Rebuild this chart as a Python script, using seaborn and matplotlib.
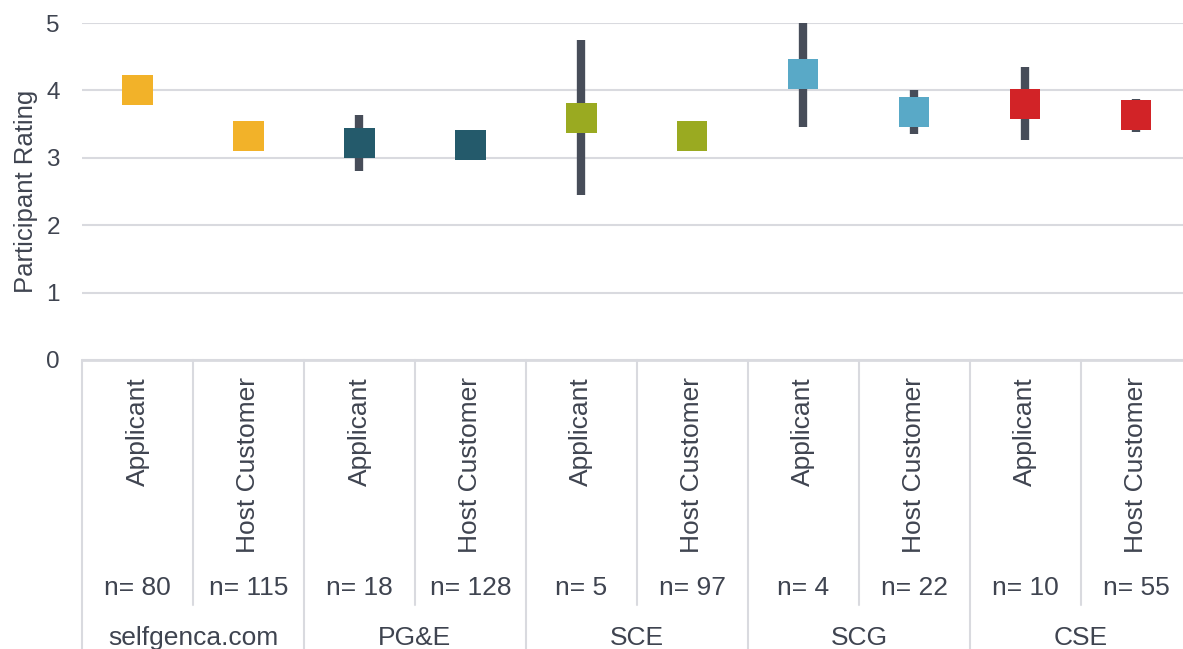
import pandas as pd
import numpy as np
import matplotlib.pyplot as plt
import seaborn as sns

# Datos
companies = ['selfgenca.com', 'PG&E', 'SCE', 'SCG', 'CSE']
roles = ['Applicant', 'Host Customer']
ratings = [4.00, 3.32, 3.22, 3.19, 3.59, 3.32, 4.24, 3.68, 3.80, 3.64]
err_low = [np.nan, np.nan, 2.80, np.nan, 2.45, np.nan, 3.46, 3.35, 3.26, 3.39]
err_high = [np.nan, np.nan, 3.63, np.nan, 4.75, np.nan, 5.00, 4.00, 4.34, 3.87]
n_counts = [80, 115, 18, 128, 5, 97, 4, 22, 10, 55]

palette = {'selfgenca.com': '#F2B229', 'PG&E': '#245A6B', 'SCE': '#9AAA21',
           'SCG': '#59A9C7', 'CSE': '#D22327'}
text_color = '#3F4450'
grid_color = '#D9DADF'

df = pd.DataFrame({
    'pos': np.arange(len(ratings)),
    'company': np.repeat(companies, 2),
    'role': roles * len(companies),
    'rating': ratings,
    'lo': err_low,
    'hi': err_high,
    'n': n_counts,
})

sns.set_theme(style='white')
plt.rcParams['font.family'] = ['Liberation Sans', 'DejaVu Sans']

fig = plt.figure(figsize=(11.83, 6.49), dpi=100)
ax = fig.add_axes([82 / 1183, 1 - 360 / 649, 1 - 82 / 1183, 337 / 649])

# barras de error detras de los cuadrados
ax.vlines(df['pos'], df['lo'], df['hi'], color='#474D59', linewidth=6, zorder=2)

sns.scatterplot(data=df, x='pos', y='rating', hue='company', palette=palette,
                marker='s', s=470, linewidth=0, legend=False, ax=ax, zorder=3)

ax.set_xlim(-0.5, 9.42)
ax.set_ylim(0, 5)
ax.set_yticks(range(6))
ax.yaxis.grid(True, color=grid_color, linewidth=1.5)
ax.set_axisbelow(True)
for s in ['top', 'right', 'left']:
    ax.spines[s].set_visible(False)
ax.spines['bottom'].set_color(grid_color)
ax.spines['bottom'].set_linewidth(2)
ax.set_xticks([])
ax.set_xlabel('')
ax.tick_params(axis='y', length=0, labelsize=17.5, labelcolor=text_color, pad=16)
ax.set_ylabel('Participant Rating', fontsize=18.5, color=text_color, labelpad=6)

# tabla de categorias bajo el eje
trans = ax.get_xaxis_transform()
for _, row in df.iterrows():
    ax.text(row['pos'], -0.05, row['role'], rotation=90, ha='center', va='top',
            fontsize=19, color=text_color, transform=trans, clip_on=False)
    ax.text(row['pos'], -0.677, f"n= {row['n']}", ha='center', va='center',
            fontsize=19, color=text_color, transform=trans, clip_on=False)
for i, comp in enumerate(companies):
    ax.text(2 * i + 0.5, -0.825, comp, ha='center', va='center',
            fontsize=19, color=text_color, transform=trans, clip_on=False)

for b in np.arange(-0.5, 10, 1.0):
    bottom = -0.86 if int(b + 0.5) % 2 == 0 else -0.727
    ax.plot([b, b], [0, bottom], color=grid_color, linewidth=1.5,
            transform=trans, clip_on=False)

plt.savefig('out.png', dpi=100, facecolor='white')
plt.close()
